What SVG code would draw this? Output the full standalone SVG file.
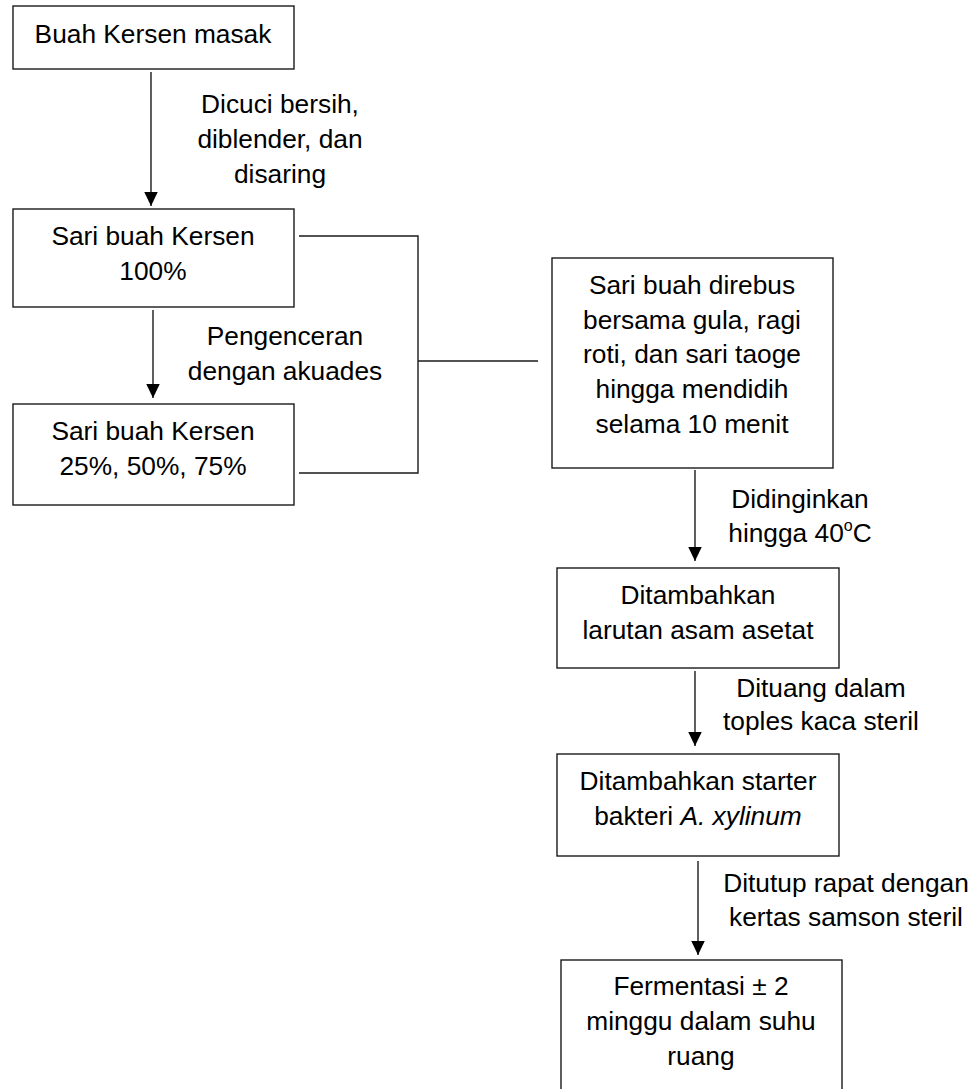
<svg xmlns="http://www.w3.org/2000/svg" width="973" height="1089" viewBox="0 0 973 1089">
<style>
.box{fill:#fff;stroke:#1a1a1a;stroke-width:1.4}
.ln{fill:none;stroke:#1a1a1a;stroke-width:1.4}
text{font-family:"Liberation Sans",Arial,sans-serif;font-size:26.3px;fill:#000;text-anchor:middle}
</style>
<defs>
<marker id="ah" markerUnits="userSpaceOnUse" markerWidth="15" markerHeight="14" refX="14" refY="6.75" orient="auto">
<path d="M0,0 L14,6.75 L0,13.5 z" fill="#000"/>
</marker>
</defs>
<rect width="973" height="1089" fill="#fff"/>
<g id="connectors">
<line class="ln" x1="151" y1="72" x2="151" y2="206" marker-end="url(#ah)"/>
<line class="ln" x1="153" y1="310" x2="153" y2="398" marker-end="url(#ah)"/>
<polyline class="ln" points="299,236 418,236 418,473 299,473"/>
<line class="ln" x1="418" y1="361" x2="538" y2="361"/>
<line class="ln" x1="695" y1="470" x2="695" y2="561" marker-end="url(#ah)"/>
<line class="ln" x1="695" y1="671" x2="695" y2="746" marker-end="url(#ah)"/>
<line class="ln" x1="698" y1="861" x2="698" y2="955" marker-end="url(#ah)"/>
<text x="280" y="113">Dicuci bersih,</text>
<text x="280" y="148">diblender, dan</text>
<text x="280" y="183">disaring</text>
<text x="285" y="345">Pengenceran</text>
<text x="285" y="380">dengan akuades</text>
<text x="800" y="508">Didinginkan</text>
<text x="800" y="542">hingga 40<tspan font-size="16" dy="-11">o</tspan><tspan dy="11">C</tspan></text>
<text x="821" y="697">Dituang dalam</text>
<text x="821" y="730">toples kaca steril</text>
<text x="846" y="892">Ditutup rapat dengan</text>
<text x="846" y="926">kertas samson steril</text>
</g>
<g id="n1">
<rect class="box" x="13" y="6" width="281" height="63"/>
<text x="153" y="43">Buah Kersen masak</text>
</g>
<g id="n2">
<rect class="box" x="13" y="209" width="281" height="98"/>
<text x="153" y="245">Sari buah Kersen</text>
<text x="153" y="280">100%</text>
</g>
<g id="n3">
<rect class="box" x="13" y="404" width="281" height="101"/>
<text x="153" y="440">Sari buah Kersen</text>
<text x="153" y="475">25%, 50%, 75%</text>
</g>
<g id="n4">
<rect class="box" x="552" y="258" width="281" height="210"/>
<text x="692" y="294">Sari buah direbus</text>
<text x="692" y="329">bersama gula, ragi</text>
<text x="692" y="363">roti, dan sari taoge</text>
<text x="692" y="398">hingga mendidih</text>
<text x="692" y="433">selama 10 menit</text>
</g>
<g id="n5">
<rect class="box" x="557" y="568" width="282" height="100"/>
<text x="698" y="604">Ditambahkan</text>
<text x="698" y="639">larutan asam asetat</text>
</g>
<g id="n6">
<rect class="box" x="557" y="754" width="282" height="102"/>
<text x="698" y="790">Ditambahkan starter</text>
<text x="698" y="825">bakteri <tspan font-style="italic">A. xylinum</tspan></text>
</g>
<g id="n7">
<rect class="box" x="561" y="960" width="281" height="150"/>
<text x="701" y="995">Fermentasi ± 2</text>
<text x="701" y="1030">minggu dalam suhu</text>
<text x="701" y="1065">ruang</text>
</g>
</svg>
